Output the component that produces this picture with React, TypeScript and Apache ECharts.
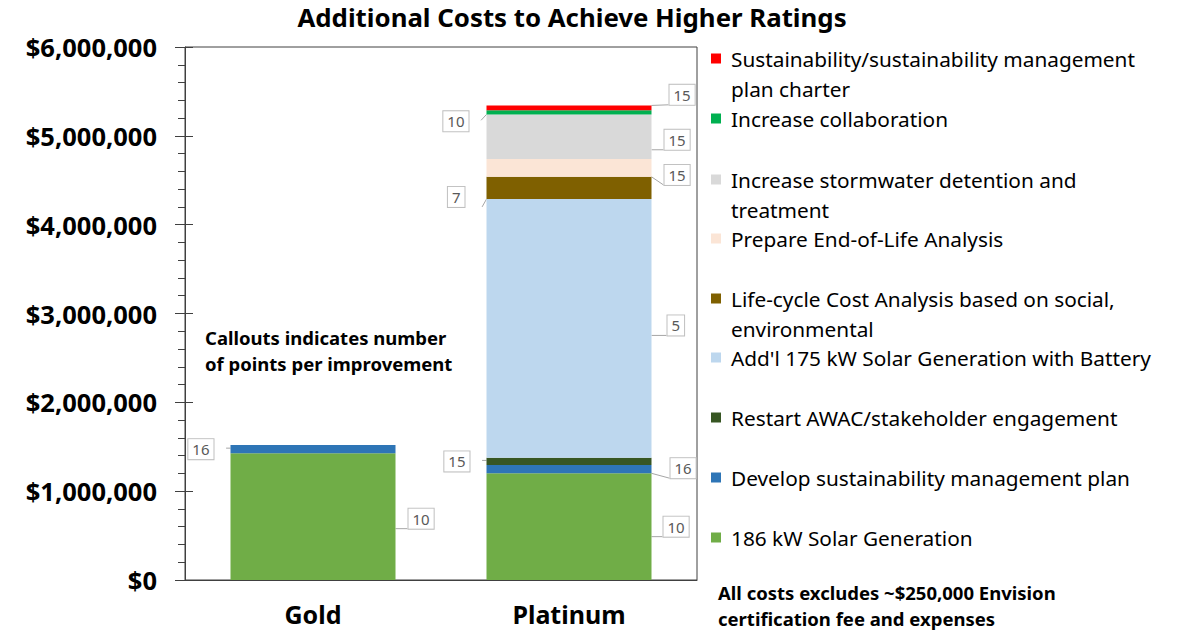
import React, { useEffect, useRef } from 'react';
import * as echarts from 'echarts';

const categories = ['Gold', 'Platinum'];

const seriesNames = [
  '186 kW Solar Generation',
  'Develop sustainability management plan',
  'Restart AWAC/stakeholder engagement',
  "Add'l 175 kW Solar Generation with Battery",
  'Life-cycle Cost Analysis based on social, environmental',
  'Prepare End-of-Life Analysis',
  'Increase stormwater detention and treatment',
  'Increase collaboration',
  'Sustainability/sustainability management plan charter',
];

// cost values (USD) per category [Gold, Platinum]
const solar186 = [1426000, 1201000];
const developPlan = [94000, 93000];
const restartAwac = [null, 82000];
const solar175 = [null, 2912000];
const lifeCycle = [null, 251000];
const endOfLife = [null, 199000];
const stormwater = [null, 503000];
const collaboration = [null, 48000];
const charter = [null, 53000];

// points per improvement (callouts)
const solar186Points = [10, 10];
const developPlanPoints = [16, 16];
const restartAwacPoints = [null, 15];
const solar175Points = [null, 5];
const lifeCyclePoints = [null, 7];
const endOfLifePoints = [null, 15];
const stormwaterPoints = [null, 15];
const collaborationPoints = [null, 10];
const charterPoints = [null, 15];

const yTicks = [0, 1000000, 2000000, 3000000, 4000000, 5000000, 6000000];

const seriesValues = [solar186, developPlan, restartAwac, solar175, lifeCycle, endOfLife, stormwater, collaboration, charter];
const seriesPoints = [solar186Points, developPlanPoints, restartAwacPoints, solar175Points, lifeCyclePoints, endOfLifePoints, stormwaterPoints, collaborationPoints, charterPoints];

const colors = ['#70ad47', '#2e75b6', '#375623', '#bdd7ee', '#7f6000', '#fbe5d6', '#d9d9d9', '#00b050', '#ff0000'];

// legend display lines (legend is listed top-down, reverse of stacking)
const legendLines: Record<string, string[]> = {
  '186 kW Solar Generation': ['186 kW Solar Generation'],
  'Develop sustainability management plan': ['Develop sustainability management plan'],
  'Restart AWAC/stakeholder engagement': ['Restart AWAC/stakeholder engagement'],
  "Add'l 175 kW Solar Generation with Battery": ["Add'l 175 kW Solar Generation with Battery"],
  'Life-cycle Cost Analysis based on social, environmental': ['Life-cycle Cost Analysis based on social,', 'environmental'],
  'Prepare End-of-Life Analysis': ['Prepare End-of-Life Analysis'],
  'Increase stormwater detention and treatment': ['Increase stormwater detention and', 'treatment'],
  'Increase collaboration': ['Increase collaboration'],
  'Sustainability/sustainability management plan charter': ['Sustainability/sustainability management', 'plan charter'],
};
const legendRowY = [60, 120, 181, 240, 300, 359, 419, 479, 539];

// callout placement per series, per category
const calloutLayout = [
  [{ side: 'right', dist: 13, dy: 2 }, { side: 'right', dist: 12, dy: 0 }],
  [{ side: 'left', dist: 17, dy: 0 }, { side: 'right', dist: 19, dy: -1 }],
  [null, { side: 'left', dist: 17, dy: 0 }],
  [null, { side: 'right', dist: 16, dy: -3 }],
  [null, { side: 'left', dist: 22, dy: 9 }],
  [null, { side: 'right', dist: 13, dy: 7 }],
  [null, { side: 'right', dist: 13, dy: 3 }],
  [null, { side: 'left', dist: 18, dy: 9 }],
  [null, { side: 'right', dist: 18, dy: -13 }],
];

const FONT = '"Noto Sans", sans-serif';

export default function App() {
  const ref = useRef<HTMLDivElement>(null);
  useEffect(() => {
    document.body.style.margin = '0';
    const chart = echarts.init(ref.current!, null, { renderer: 'svg' });
    const legendOrder = [...seriesNames].reverse();
    const legends = legendOrder.map((name, i) => ({
      data: [name],
      left: 711,
      top: legendRowY[i] - 12,
      padding: 0,
      icon: 'rect',
      itemWidth: 10,
      itemHeight: 10,
      selectedMode: false,
      formatter: (n: string) => legendLines[n][0],
      textStyle: { fontFamily: FONT, fontSize: 20.8, color: '#000', padding: [0, 0, 0, 5] },
    }));
    const secondLines: any[] = [];
    legendOrder.forEach((name, i) => {
      const lines = legendLines[name];
      if (lines.length > 1) {
        secondLines.push({
          type: 'text',
          x: 731,
          y: legendRowY[i] + 29,
          style: { text: lines[1], fontFamily: FONT, fontSize: 20.8, fill: '#000', verticalAlign: 'middle' },
        });
      }
    });

    const series = seriesNames.map((name, s) => ({
      name,
      type: 'bar',
      stack: 'total',
      barWidth: 165,
      itemStyle: { color: colors[s] },
      label: {
        show: true,
        color: '#595959',
        fontFamily: FONT,
        fontSize: 15,
        backgroundColor: '#fff',
        borderColor: '#bfbfbf',
        borderWidth: 1,
        padding: [3, 4, 2, 4],
      },
      labelLine: { show: true, length2: 0, lineStyle: { color: '#a6a6a6', width: 1 } },
      data: seriesValues[s].map((v, i) => {
        if (v == null) return null;
        const lay = calloutLayout[s][i]!;
        return {
          value: v,
          label: {
            position: lay.side,
            distance: lay.dist,
            offset: [0, lay.dy],
            formatter: String(seriesPoints[s][i]),
          },
        };
      }),
    }));

    chart.setOption({
      animation: false,
      textStyle: { fontFamily: FONT },
      title: {
        text: 'Additional Costs to Achieve Higher Ratings',
        left: 572,
        textAlign: 'center',
        top: 4,
        padding: 0,
        textStyle: { fontFamily: FONT, fontSize: 25.8, fontWeight: 'bold', color: '#000' },
      },
      legend: legends,
      grid: {
        left: 185,
        right: 494,
        top: 47,
        bottom: 51,
        containLabel: false,
        outerBoundsMode: 'none',
        show: true,
        borderColor: '#404040',
        borderWidth: 1,
      },
      xAxis: {
        type: 'category',
        data: categories,
        axisTick: { show: false },
        axisLine: { lineStyle: { color: '#404040' } },
        axisLabel: { fontFamily: FONT, fontSize: 25, fontWeight: 'bold', color: '#000', margin: 21 },
      },
      yAxis: [
        {
          type: 'value',
          min: yTicks[0],
          max: yTicks[yTicks.length - 1],
          interval: yTicks[1] - yTicks[0],
          axisLine: { show: true, lineStyle: { color: '#404040' } },
          axisTick: { show: true, length: 10, lineStyle: { color: '#404040' } },
          minorTick: { show: true, splitNumber: 5, length: 7, lineStyle: { color: '#404040' } },
          splitLine: { show: false },
          axisLabel: {
            fontFamily: FONT,
            fontSize: 25.5,
            fontWeight: 'bold',
            color: '#000',
            margin: 28,
            formatter: (v: number) => '$' + v.toLocaleString('en-US'),
          },
        },
        {
          type: 'value',
          min: yTicks[0],
          max: yTicks[yTicks.length - 1],
          interval: yTicks[1] - yTicks[0],
          position: 'left',
          offset: 0,
          axisLine: { show: false },
          axisTick: { show: true, inside: true, length: 8, lineStyle: { color: '#404040' } },
          splitLine: { show: false },
          axisLabel: { show: false },
        },
      ],
      series,
      graphic: [
        ...secondLines,
        {
          type: 'text',
          x: 205,
          y: 324,
          style: {
            text: 'Callouts indicates number\nof points per improvement',
            fontFamily: FONT,
            fontSize: 18.5,
            fontWeight: 'bold',
            lineHeight: 26,
            fill: '#000',
          },
        },
        {
          type: 'text',
          x: 718,
          y: 579,
          style: {
            text: 'All costs excludes ~$250,000 Envision\ncertification fee and expenses',
            fontFamily: FONT,
            fontSize: 18.5,
            fontWeight: 'bold',
            lineHeight: 26,
            fill: '#000',
          },
        },
      ],
    });
    return () => chart.dispose();
  }, []);
  return <div ref={ref} style={{ width: 1191, height: 631 }} />;
}
